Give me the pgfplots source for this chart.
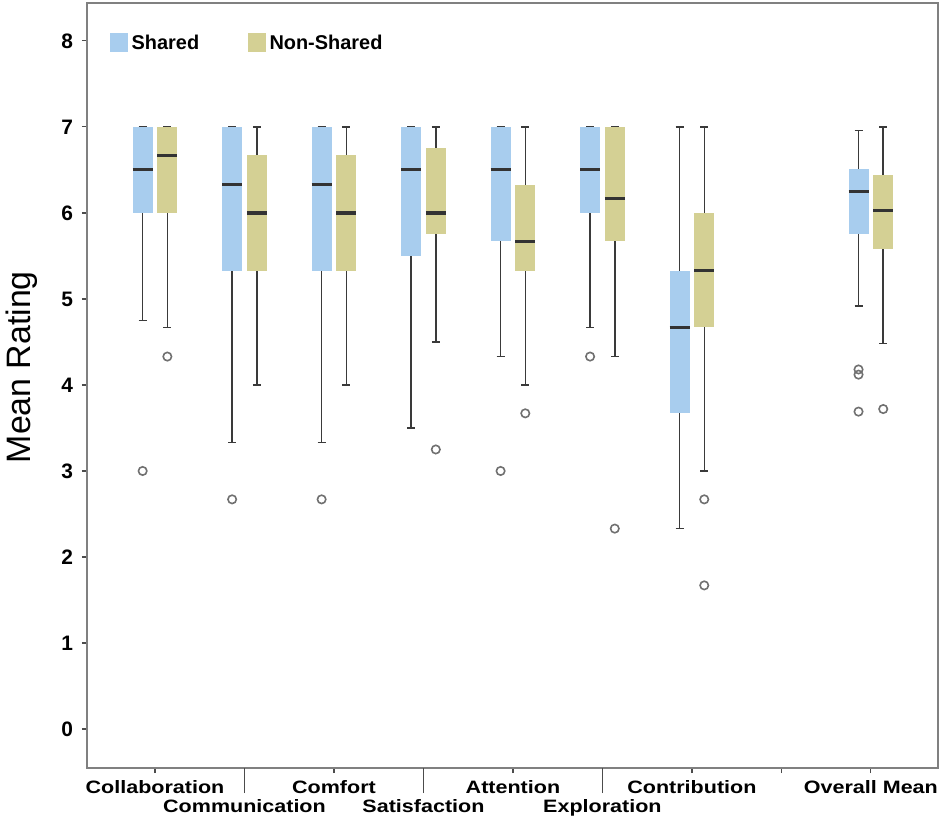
\documentclass[border=0pt]{standalone}
\usepackage{pgfplots}
\pgfplotsset{compat=1.18}
\usepgfplotslibrary{statistics}
\usepackage{fontspec}
\setmainfont{Liberation Sans}
\newfontfamily\xlabfont[FakeStretch=1.2]{Liberation Sans}
\definecolor{shC}{HTML}{A8CDEE}
\definecolor{nsC}{HTML}{D4D094}
\definecolor{whC}{HTML}{3A3A3A}
\definecolor{frC}{HTML}{808080}
\definecolor{olC}{HTML}{707070}
\pgfplotsset{
 bxs/.style={
  draw=whC, line width=0.75bp,
  mark=o, mark size=2.1bp, mark options={draw=olC, line width=0.8bp, fill=none},
  boxplot/draw direction=y,
  boxplot/box extend=0.223,
  boxplot/whisker extend=0.09,
  boxplot/every box/.style={draw=none, fill=#1},
  boxplot/every median/.style={draw=black!80, line width=1.6bp},
 },
}
\begin{document}
\begin{tikzpicture}
\begin{axis}[
 scale only axis, width=425.5bp, height=382.5bp,
 xmin=-0.76, xmax=8.75, ymin=-0.453, ymax=8.44,
 axis line style={draw=frC, line width=0.75bp},
 tick pos=left, tick align=outside,
 major tick length=2.5bp,
 tick style={draw=black!70, line width=0.6bp},
 ytick={0,1,2,3,4,5,6,7,8},
 xtick={0,1,2,3,4,5,6,7,8},
 xticklabels={Collaboration, {\vphantom{Cl}\\Communication}, Comfort, {\vphantom{Cl}\\Satisfaction}, Attention, {\vphantom{Cl}\\Exploration}, Contribution, {}, Overall Mean},
 extra x ticks={1,3,5}, extra x tick labels={},
 extra x tick style={major tick length=12.5bp, tick style={draw=black!70, line width=0.6bp}},
 /pgf/number format/assume math mode=true,
 yticklabel style={font=\bfseries\fontsize{10.5}{12}\selectfont, xshift=-1bp},
 xticklabel style={font=\xlabfont\bfseries\fontsize{9}{10}\selectfont, align=center, anchor=north},
 ylabel={Mean Rating},
 ylabel style={font=\fontsize{17}{20}\selectfont, at={(axis description cs:-0.0764,0.524)}, anchor=center},
]
% Collaboration
\addplot[bxs=shC, boxplot prepared={draw position=-0.138, lower whisker=4.75, lower quartile=6, median=6.5, upper quartile=7, upper whisker=7}] table[row sep=\\,y index=0] {v\\3.0\\};
\addplot[bxs=nsC, boxplot prepared={draw position=0.138, lower whisker=4.67, lower quartile=6, median=6.67, upper quartile=7, upper whisker=7}] table[row sep=\\,y index=0] {v\\4.33\\};
% Communication
\addplot[bxs=shC, boxplot prepared={draw position=0.862, lower whisker=3.33, lower quartile=5.33, median=6.33, upper quartile=7, upper whisker=7}] table[row sep=\\,y index=0] {v\\2.67\\};
\addplot[bxs=nsC, boxplot prepared={draw position=1.138, lower whisker=4.0, lower quartile=5.33, median=6.0, upper quartile=6.67, upper whisker=7}] coordinates {};
% Comfort
\addplot[bxs=shC, boxplot prepared={draw position=1.862, lower whisker=3.33, lower quartile=5.33, median=6.33, upper quartile=7, upper whisker=7}] table[row sep=\\,y index=0] {v\\2.67\\};
\addplot[bxs=nsC, boxplot prepared={draw position=2.138, lower whisker=4.0, lower quartile=5.33, median=6.0, upper quartile=6.67, upper whisker=7}] coordinates {};
% Satisfaction
\addplot[bxs=shC, boxplot prepared={draw position=2.862, lower whisker=3.5, lower quartile=5.5, median=6.5, upper quartile=7, upper whisker=7}] coordinates {};
\addplot[bxs=nsC, boxplot prepared={draw position=3.138, lower whisker=4.5, lower quartile=5.75, median=6.0, upper quartile=6.75, upper whisker=7}] table[row sep=\\,y index=0] {v\\3.25\\};
% Attention
\addplot[bxs=shC, boxplot prepared={draw position=3.862, lower whisker=4.33, lower quartile=5.67, median=6.5, upper quartile=7, upper whisker=7}] table[row sep=\\,y index=0] {v\\3.0\\};
\addplot[bxs=nsC, boxplot prepared={draw position=4.138, lower whisker=4.0, lower quartile=5.33, median=5.67, upper quartile=6.33, upper whisker=7}] table[row sep=\\,y index=0] {v\\3.67\\};
% Exploration
\addplot[bxs=shC, boxplot prepared={draw position=4.862, lower whisker=4.67, lower quartile=6.0, median=6.5, upper quartile=7, upper whisker=7}] table[row sep=\\,y index=0] {v\\4.33\\};
\addplot[bxs=nsC, boxplot prepared={draw position=5.138, lower whisker=4.33, lower quartile=5.67, median=6.17, upper quartile=7, upper whisker=7}] table[row sep=\\,y index=0] {v\\2.33\\};
% Contribution
\addplot[bxs=shC, boxplot prepared={draw position=5.862, lower whisker=2.33, lower quartile=3.67, median=4.67, upper quartile=5.33, upper whisker=7}] coordinates {};
\addplot[bxs=nsC, boxplot prepared={draw position=6.138, lower whisker=3.0, lower quartile=4.67, median=5.33, upper quartile=6.0, upper whisker=7}] table[row sep=\\,y index=0] {v\\2.67\\1.67\\};
% Overall Mean
\addplot[bxs=shC, boxplot prepared={draw position=7.862, lower whisker=4.92, lower quartile=5.76, median=6.25, upper quartile=6.51, upper whisker=6.96}] table[row sep=\\,y index=0] {v\\4.18\\4.12\\3.69\\};
\addplot[bxs=nsC, boxplot prepared={draw position=8.138, lower whisker=4.48, lower quartile=5.58, median=6.03, upper quartile=6.44, upper whisker=7}] table[row sep=\\,y index=0] {v\\3.72\\};
% legend
\fill[shC] (rel axis cs:0.027,0.936) rectangle (rel axis cs:0.048,0.961);
\node[anchor=west, font=\bfseries\fontsize{10}{12}\selectfont, inner sep=0] at (rel axis cs:0.052,0.948) {Shared};
\fill[nsC] (rel axis cs:0.189,0.936) rectangle (rel axis cs:0.210,0.961);
\node[anchor=west, font=\bfseries\fontsize{10}{12}\selectfont, inner sep=0] at (rel axis cs:0.214,0.948) {Non-Shared};
\end{axis}
\pgfresetboundingbox
\path ([shift={(-43.5bp,-27bp)}]current axis.south west) rectangle ([shift={(2.5bp,1.5bp)}]current axis.north east);
\end{tikzpicture}
\end{document}
